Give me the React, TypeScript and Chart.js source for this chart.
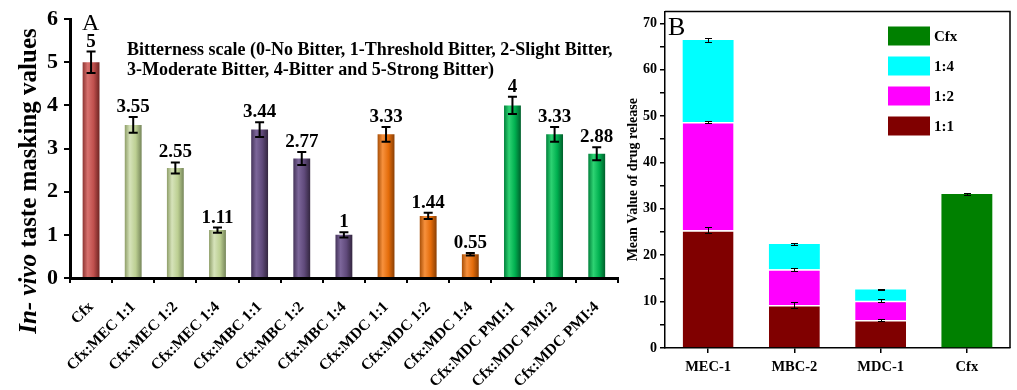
import React, { useEffect, useRef } from "react";
import { Chart, registerables } from "chart.js";
Chart.register(...registerables);

const SERIF = "'Liberation Serif', 'Times New Roman', Times, serif";

// ---------- Panel A data ----------
const categoriesA = [
  "Cfx", "Cfx:MEC 1:1", "Cfx:MEC 1:2", "Cfx:MEC 1:4",
  "Cfx:MBC 1:1", "Cfx:MBC 1:2", "Cfx:MBC 1:4",
  "Cfx:MDC 1:1", "Cfx:MDC 1:2", "Cfx:MDC 1:4",
  "Cfx:MDC PMI:1", "Cfx:MDC PMI:2", "Cfx:MDC PMI:4",
];
const valuesA = [5, 3.55, 2.55, 1.11, 3.44, 2.77, 1, 3.33, 1.44, 0.55, 4, 3.33, 2.88];
const errorsA = [0.25, 0.18, 0.13, 0.06, 0.17, 0.15, 0.06, 0.17, 0.07, 0.03, 0.2, 0.17, 0.15];
const valueLabelsA = ["5", "3.55", "2.55", "1.11", "3.44", "2.77", "1", "3.33", "1.44", "0.55", "4", "3.33", "2.88"];
const groupA = [0, 1, 1, 1, 2, 2, 2, 3, 3, 3, 4, 4, 4];
const yTicksA = [0, 1, 2, 3, 4, 5, 6];
const titleA = "In- vivo";
const titleA2 = " taste masking values";
const noteLine1 = "Bitterness scale (0-No Bitter, 1-Threshold Bitter, 2-Slight Bitter,";
const noteLine2 = "3-Moderate Bitter, 4-Bitter and 5-Strong Bitter)";

// gradient stops: edge, highlight, base, dark edge
const paletteA = [
  ["#8E3532", "#D8716E", "#C0504D", "#6E2422"],
  ["#8E9E68", "#D6E3BA", "#BCCF92", "#76865A"],
  ["#45345A", "#7C669A", "#604A7B", "#33263F"],
  ["#A84F07", "#F7913D", "#E46C0A", "#8A3F04"],
  ["#00803A", "#2ED373", "#00B050", "#005F2B"],
];

// ---------- Panel B data ----------
const categoriesB = ["MEC-1", "MBC-2", "MDC-1", "Cfx"];
const seriesB11 = [25.4, 9.25, 6.05, null];
const seriesB12 = [23.3, 7.75, 4.15, null];
const seriesB14 = [17.7, 5.4, 2.4, null];
const seriesBCfx = [null, null, null, 33.2];
const errB11 = [0.7, 0.6, 0.2, 0];
const errB12 = [0.2, 0.3, 0.3, 0];
const errB14 = [0.5, 0.3, 0.2, 0];
const errBCfx = [0, 0, 0, 0.3];
const yTicksB = [0, 5, 10, 15, 20, 25, 30, 35, 40, 45, 50, 55, 60, 65, 70];
const legendB = ["Cfx", "1:4", "1:2", "1:1"];
const colorsB = { c11: "#800000", c12: "#FF00FF", c14: "#00FFFF", cfx: "#008000" };

function ChartA() {
  const ref = useRef<HTMLCanvasElement>(null);
  useEffect(() => {
    const canvas = ref.current!;
    const plugin = {
      id: "decorA",
      afterDatasetsDraw(chart: any) {
        const ctx = chart.ctx;
        const y = chart.scales.y;
        const meta = chart.getDatasetMeta(0);
        ctx.save();
        ctx.strokeStyle = "#000";
        ctx.lineWidth = 2;
        ctx.fillStyle = "#000";
        ctx.font = `bold 19px ${SERIF}`;
        ctx.textAlign = "center";
        ctx.textBaseline = "alphabetic";
        valuesA.forEach((v, i) => {
          const el = meta.data[i];
          const x = el.x;
          const yt = y.getPixelForValue(v + errorsA[i]);
          const yb = y.getPixelForValue(v - errorsA[i]);
          ctx.beginPath();
          ctx.moveTo(x, yt); ctx.lineTo(x, yb);
          ctx.moveTo(x - 4.5, yt); ctx.lineTo(x + 4.5, yt);
          ctx.moveTo(x - 4.5, yb); ctx.lineTo(x + 4.5, yb);
          ctx.stroke();
          ctx.fillText(valueLabelsA[i], x, yt - 5);
        });
        ctx.restore();
      },
      afterDraw(chart: any) {
        const ctx = chart.ctx;
        ctx.save();
        ctx.fillStyle = "#000";
        ctx.font = `24px ${SERIF}`;
        ctx.textAlign = "left";
        ctx.textBaseline = "alphabetic";
        ctx.fillText("A", 82, 30);
        ctx.font = `bold 18px ${SERIF}`;
        ctx.fillText(noteLine1, 127, 55);
        ctx.fillText(noteLine2, 127, 75);
        // y title
        ctx.translate(30, 181);
        ctx.rotate(-Math.PI / 2);
        ctx.textBaseline = "middle";
        const f1 = `italic bold 25px ${SERIF}`;
        const f2 = `bold 25px ${SERIF}`;
        ctx.font = f1;
        const w1 = ctx.measureText(titleA).width;
        ctx.font = f2;
        const w2 = ctx.measureText(titleA2).width;
        const start = -(w1 + w2) / 2;
        ctx.font = f1;
        ctx.fillText(titleA, start, 0);
        ctx.font = f2;
        ctx.fillText(titleA2, start + w1, 0);
        ctx.restore();
      },
    };
    const chart = new Chart(canvas, {
      type: "bar",
      data: {
        labels: categoriesA,
        datasets: [
          {
            data: valuesA,
            barPercentage: 0.4,
            categoryPercentage: 1,
            backgroundColor: (c: any) => {
              const chart = c.chart;
              const xs = chart.scales && chart.scales.x;
              const p = paletteA[groupA[c.dataIndex] ?? 0];
              if (!xs || c.dataIndex == null || !xs.width) return p[2];
              const cx = xs.getPixelForValue(c.dataIndex);
              const half = (xs.width / categoriesA.length) * 0.4 / 2;
              const g = chart.ctx.createLinearGradient(cx - half, 0, cx + half, 0);
              g.addColorStop(0, p[0]);
              g.addColorStop(0.3, p[1]);
              g.addColorStop(0.65, p[2]);
              g.addColorStop(1, p[3]);
              return g;
            },
            borderWidth: 0,
          },
        ],
      },
      options: {
        responsive: false,
        animation: false,
        devicePixelRatio: 1,
        layout: { padding: { left: 0, top: 15, right: 3, bottom: 0 } },
        plugins: { legend: { display: false }, tooltip: { enabled: false } },
        scales: {
          x: {
            offset: true,
            grid: { offset: true, drawOnChartArea: false, drawTicks: true, tickLength: 5, color: "#000", lineWidth: 2 },
            border: { display: true, color: "#000", width: 3 },
            ticks: {
              color: "#000",
              font: { family: SERIF, size: 15.5, weight: "bold" },
              minRotation: 45,
              maxRotation: 45,
              autoSkip: false,
              padding: 15,
            },
            afterFit: (s: any) => { s.height = 112; },
          },
          y: {
            min: 0,
            max: 6,
            afterBuildTicks: (s: any) => { s.ticks = yTicksA.map((v) => ({ value: v })); },
            ticks: { color: "#000", font: { family: SERIF, size: 22, weight: "bold" }, padding: 6 },
            grid: { drawOnChartArea: false, tickLength: 6, color: "#000", lineWidth: 2 },
            border: { color: "#000", width: 3 },
            afterFit: (s: any) => { s.width = 70; },
          },
        },
      },
      plugins: [plugin],
    } as any);
    return () => chart.destroy();
  }, []);
  return <canvas ref={ref} width={625} height={390} style={{ display: "block" }} />;
}

function ChartB() {
  const ref = useRef<HTMLCanvasElement>(null);
  useEffect(() => {
    const canvas = ref.current!;
    const series = [seriesB11, seriesB12, seriesB14, seriesBCfx];
    const errs = [errB11, errB12, errB14, errBCfx];
    const plugin = {
      id: "decorB",
      afterDatasetsDraw(chart: any) {
        const ctx = chart.ctx;
        const y = chart.scales.y;
        ctx.save();
        ctx.strokeStyle = "#000";
        ctx.lineWidth = 1;
        const cum = [0, 0, 0, 0];
        series.forEach((s, di) => {
          const meta = chart.getDatasetMeta(di);
          s.forEach((v, i) => {
            if (v == null) return;
            cum[i] += v;
            const e = errs[di][i];
            const x = meta.data[i].x;
            const yt = Math.round(y.getPixelForValue(cum[i] + e)) + 0.5;
            const yb = Math.round(y.getPixelForValue(cum[i] - e)) + 0.5;
            const xx = Math.round(x) + 0.5;
            ctx.beginPath();
            ctx.moveTo(xx, yt); ctx.lineTo(xx, yb);
            ctx.moveTo(xx - 3.5, yt); ctx.lineTo(xx + 3.5, yt);
            ctx.moveTo(xx - 3.5, yb); ctx.lineTo(xx + 3.5, yb);
            ctx.stroke();
          });
        });
        ctx.restore();
      },
      afterDraw(chart: any) {
        const ctx = chart.ctx;
        const a = chart.chartArea;
        ctx.save();
        ctx.strokeStyle = "#000";
        ctx.lineWidth = 1.5;
        ctx.beginPath();
        ctx.moveTo(a.left, a.top);
        ctx.lineTo(a.right, a.top);
        ctx.lineTo(a.right, a.bottom);
        ctx.stroke();
        ctx.fillStyle = "#000";
        ctx.font = `26px ${SERIF}`;
        ctx.textAlign = "left";
        ctx.textBaseline = "alphabetic";
        ctx.fillText("B", 43, 35);
        // legend
        const cols = [colorsB.cfx, colorsB.c14, colorsB.c12, colorsB.c11];
        ctx.font = `bold 15px ${SERIF}`;
        ctx.textBaseline = "middle";
        legendB.forEach((t, i) => {
          const cy = 36 + i * 30;
          ctx.fillStyle = cols[i];
          ctx.fillRect(263, cy - 9.5, 42, 19);
          ctx.fillStyle = "#000";
          ctx.fillText(t, 309, cy + 1);
        });
        // y title
        ctx.translate(8, (a.top + a.bottom) / 2);
        ctx.rotate(-Math.PI / 2);
        ctx.textAlign = "center";
        ctx.font = `bold 14px ${SERIF}`;
        ctx.fillText("Mean Value of drug release", 0, 0);
        ctx.restore();
      },
    };
    const common = { barPercentage: 0.59, categoryPercentage: 1, stack: "s" };
    const chart = new Chart(canvas, {
      type: "bar",
      data: {
        labels: categoriesB,
        datasets: [
          { ...common, label: "1:1", data: seriesB11, backgroundColor: colorsB.c11, borderColor: "#fff", borderWidth: { top: 1.5, left: 0, right: 0, bottom: 0 }, borderSkipped: false },
          { ...common, label: "1:2", data: seriesB12, backgroundColor: colorsB.c12, borderColor: "#fff", borderWidth: { top: 1.5, left: 0, right: 0, bottom: 0 }, borderSkipped: false },
          { ...common, label: "1:4", data: seriesB14, backgroundColor: colorsB.c14, borderWidth: 0 },
          { ...common, label: "Cfx", data: seriesBCfx, backgroundColor: colorsB.cfx, borderWidth: 0 },
        ],
      },
      options: {
        responsive: false,
        animation: false,
        devicePixelRatio: 1,
        layout: { padding: { left: 0, top: 8, right: 7, bottom: 0 } },
        plugins: { legend: { display: false }, tooltip: { enabled: false } },
        scales: {
          x: {
            stacked: true,
            offset: true,
            grid: { offset: false, drawOnChartArea: false, tickLength: 5, color: "#000", lineWidth: 1.5 },
            border: { color: "#000", width: 1.5 },
            ticks: { color: "#000", font: { family: SERIF, size: 14.5, weight: "bold" }, padding: 6, maxRotation: 0 },
            afterFit: (s: any) => { s.height = 42; },
          },
          y: {
            stacked: true,
            min: 0,
            max: 72.56,
            afterBuildTicks: (s: any) => { s.ticks = yTicksB.map((v) => ({ value: v })); },
            ticks: {
              color: "#000",
              font: { family: SERIF, size: 14, weight: "bold" },
              padding: 3,
              callback: (v: any) => (v % 10 === 0 ? String(v) : ""),
            },
            grid: { drawOnChartArea: false, tickLength: 5, color: "#000", lineWidth: 1.5 },
            border: { color: "#000", width: 1.5 },
            afterFit: (s: any) => { s.width = 40; },
          },
        },
      },
      plugins: [plugin],
    } as any);
    return () => chart.destroy();
  }, []);
  return <canvas ref={ref} width={392} height={390} style={{ display: "block" }} />;
}

export default function App() {
  return (
    <div style={{ position: "fixed", left: 0, top: 0, width: 1017, height: 390, background: "#fff" }}>
      <div style={{ position: "absolute", left: 0, top: 0 }}>
        <ChartA />
      </div>
      <div style={{ position: "absolute", left: 625, top: 0 }}>
        <ChartB />
      </div>
    </div>
  );
}
